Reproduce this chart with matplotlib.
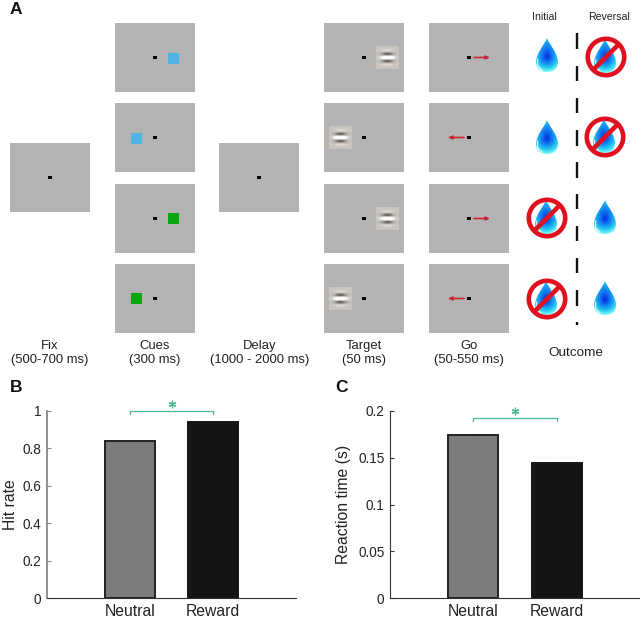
"""Task schematic (A) with hit rate (B) and reaction time (C) bars."""
import numpy as np
import matplotlib
matplotlib.use('Agg')
import matplotlib.pyplot as plt
from matplotlib.patches import Rectangle, Circle, PathPatch
from matplotlib.path import Path

plt.rcParams['font.family'] = ['Liberation Sans', 'DejaVu Sans']

categories = ['Neutral', 'Reward']
hit_rate = [0.84, 0.94]
hit_err = [0.002, 0.001]
reaction_time = [0.1745, 0.1448]
rt_err = [0.0006, 0.0003]
hit_ticks = [0, 0.2, 0.4, 0.6, 0.8, 1]
hit_ticklabels = ['0', '0.2', '0.4', '0.6', '0.8', '1']
rt_ticks = [0, 0.05, 0.1, 0.15, 0.2]
rt_ticklabels = ['0', '0.05', '0.1', '0.15', '0.2']

stage_labels = ['Fix\n(500-700 ms)', 'Cues\n(300 ms)', 'Delay\n(1000 - 2000 ms)',
                'Target\n(50 ms)', 'Go\n(50-550 ms)']

W, H = 640, 620
GRAY = '#b3b3b3'
BLUE = '#4fb3e3'
GREEN = '#0aa60f'
RED = '#c9252f'
SIG = '#4dbb8c'

fig = plt.figure(figsize=(W / 100, H / 100), dpi=100)
ax = fig.add_axes([0, 0, 1, 1])
ax.axis('off')

rows = [23, 103, 184, 264]


def screen(x, y, h=69):
    # grey monitor frame with the black fixation dot in the middle
    ax.add_patch(Rectangle((x, y), 80, h, fc=GRAY, ec='none'))
    ax.add_patch(Rectangle((x + 38.2, y + h / 2 - 1.7), 3.5, 3.5, fc='black', ec='none', zorder=4))


def gabor(cx, cy):
    yy, xx = np.mgrid[-11.5:11.5:46j, -11.5:11.5:46j]
    env = np.exp(-(xx ** 2 / 32 + yy ** 2 / 28))
    wave = env * np.cos(2 * np.pi * yy / 8)
    base = np.array([0.79, 0.77, 0.75])
    img = np.stack([base[i] + 0.72 * wave for i in range(3)], axis=2)
    ax.imshow(np.clip(img, 0, 1), aspect='auto', zorder=3,
              extent=(cx - 11.5, cx + 11.5, cy + 11.5, cy - 11.5))


def arrow(x0, x1, y):
    ax.annotate('', xy=(x1, y), xytext=(x0, y),
                arrowprops=dict(arrowstyle='-|>,head_width=0.1,head_length=0.22', color=RED,
                                lw=1.2, shrinkA=0, shrinkB=0), zorder=4)


def drop(cx, cy):
    # teardrop filled with a radial blue to cyan gradient
    verts = [(cx, cy - 18), (cx - 2, cy - 12), (cx - 11, cy - 3), (cx - 11, cy + 6),
             (cx - 11, cy + 13), (cx - 6, cy + 16), (cx, cy + 16),
             (cx + 6, cy + 16), (cx + 11, cy + 13), (cx + 11, cy + 6),
             (cx + 11, cy - 3), (cx + 2, cy - 12), (cx, cy - 18)]
    codes = [Path.MOVETO] + [Path.CURVE4] * 12
    path = Path(verts, codes)
    yy, xx = np.mgrid[-18:16:68j, -11:11:44j]
    dy = yy - 1
    r = np.sqrt(xx ** 2 + (np.where(dy < 0, dy * 0.55, dy)) ** 2)
    stops = np.array([[8, 40, 225], [15, 120, 240], [40, 205, 240], [130, 250, 245]]) / 255
    rgb = np.stack([np.interp(r, [0, 5, 11, 15], stops[:, i]) for i in range(3)], axis=2)
    im = ax.imshow(rgb, aspect='auto', zorder=5, extent=(cx - 11, cx + 11, cy + 16, cy - 18))
    im.set_clip_path(PathPatch(path, transform=ax.transData))
    ax.plot([cx - 9.3, cx - 9.3, cx - 5], [cy + 3, cy + 10, cy + 14], color='white', lw=0.7, zorder=6)


def no_drop(cx, cy):
    drop(cx - 1, cy)
    ax.add_patch(Circle((cx, cy), 18.2, fc='none', ec='#e0101f', lw=3.3, zorder=7))
    ax.plot([cx - 13.5, cx + 13.5], [cy + 13.5, cy - 13.5], color='#e0101f', lw=3.3, zorder=7,
            solid_capstyle='butt')


# fixation and delay screens
screen(10, 143)
screen(219, 143)

# cue screens
for y in rows:
    screen(115, y)
for x, y, c in [(173, 58, BLUE), (136, 138, BLUE), (173, 218, GREEN), (136, 298, GREEN)]:
    ax.add_patch(Rectangle((x - 5.5, y - 5.5), 11, 11, fc=c, ec='none', zorder=3))

# target screens
for y in rows:
    screen(324, y)
for x, y in [(387.5, 58), (340.5, 138), (387.5, 219), (340.5, 299)]:
    gabor(x, y)

# go screens
for y in rows:
    screen(429, y)
arrow(474, 490, 57.5)
arrow(464, 448, 137.5)
arrow(474, 490, 218.5)
arrow(464, 448, 298.5)

# outcomes
drop(547, 56)
no_drop(606, 57)
drop(547, 138)
no_drop(605, 137)
no_drop(547, 218)
drop(605, 218)
no_drop(547, 299)
drop(605, 299)

# dashed divider between initial and reversal
for y0, y1 in [(33, 49), (66, 81), (98, 113), (130, 146), (162, 178),
               (194, 209), (226, 241), (258, 273), (290, 306), (322, 325)]:
    ax.plot([577, 577], [y0, y1], color='#111111', lw=1.7, solid_capstyle='butt')

ax.set_xlim(0, W)
ax.set_ylim(H, 0)

ax.text(544, 17, 'Initial', ha='center', va='center', fontsize=7.6, color='#222222')
ax.text(609, 17, 'Reversal', ha='center', va='center', fontsize=7.6, color='#222222')
for xc, label in zip([49.5, 154.5, 260, 364, 469], stage_labels):
    ax.text(xc, 353, label, ha='center', va='center', fontsize=9.4, linespacing=1.33, color='#222222')
ax.text(576, 353, 'Outcome', ha='center', va='center', fontsize=9.7, color='#222222')

for label, x, y in [('A', 16, 9), ('B', 16, 388), ('C', 342, 387)]:
    ax.text(x, y, label, ha='center', va='center', fontsize=12.5, fontweight='bold', color='#111111')


def bars(rect, values, errs, ticks, ticklabels, ymax, ylabel, bracket_y, spine_color):
    left, right, top, bottom = rect
    bax = fig.add_axes([left / W, 1 - bottom / H, (right - left) / W, (bottom - top) / H])
    bax.patch.set_alpha(0)
    bax.bar([1, 2], values, width=0.6, color=['#7a7c7d', '#161416'],
            edgecolor=['#222222', '#161416'], linewidth=1.4)
    bax.errorbar([1, 2], values, yerr=errs, fmt='none', ecolor='#111111', elinewidth=1)
    bax.set_xlim(0, 3)
    bax.set_ylim(0, ymax)
    bax.set_xticks([1, 2], categories)
    bax.set_yticks(ticks, ticklabels)
    bax.tick_params(axis='x', length=0, labelsize=11.3, pad=4, labelcolor='#222222')
    bax.tick_params(axis='y', direction='in', length=3, width=0.8, color=spine_color,
                    labelsize=9.8, pad=4, labelcolor='#222222')
    bax.set_ylabel(ylabel, fontsize=11.3, color='#222222')
    for side in ['top', 'right']:
        bax.spines[side].set_visible(False)
    bax.spines['left'].set_color(spine_color)
    bax.spines['bottom'].set_color('#333333')
    bax.spines['bottom'].set_linewidth(0.8)
    # significance bracket with a six-armed star above it
    drop_h = ymax * 0.018
    bax.plot([1, 1, 2, 2], [bracket_y - drop_h, bracket_y, bracket_y, bracket_y - drop_h],
             color=SIG, lw=0.9, clip_on=False)
    bax.plot([1.5], [bracket_y + ymax * 0.037], marker=(6, 2, 0), ms=5.5, mew=0.9, color=SIG,
             clip_on=False)
    return bax


bax = bars((47, 296, 411, 598), hit_rate, hit_err, hit_ticks, hit_ticklabels, 1,
           'Hit rate', 1.0, '#888888')
bax.spines['left'].set_linewidth(1.3)
bax.yaxis.set_label_coords(-0.115, 0.5)

cax = bars((390, 640, 411, 598), reaction_time, rt_err, rt_ticks, rt_ticklabels, 0.2,
           'Reaction time (s)', 0.1925, '#333333')
cax.spines['left'].set_linewidth(0.8)
cax.yaxis.set_label_coords(-0.155, 0.5)

plt.savefig('out.png', dpi=100)
